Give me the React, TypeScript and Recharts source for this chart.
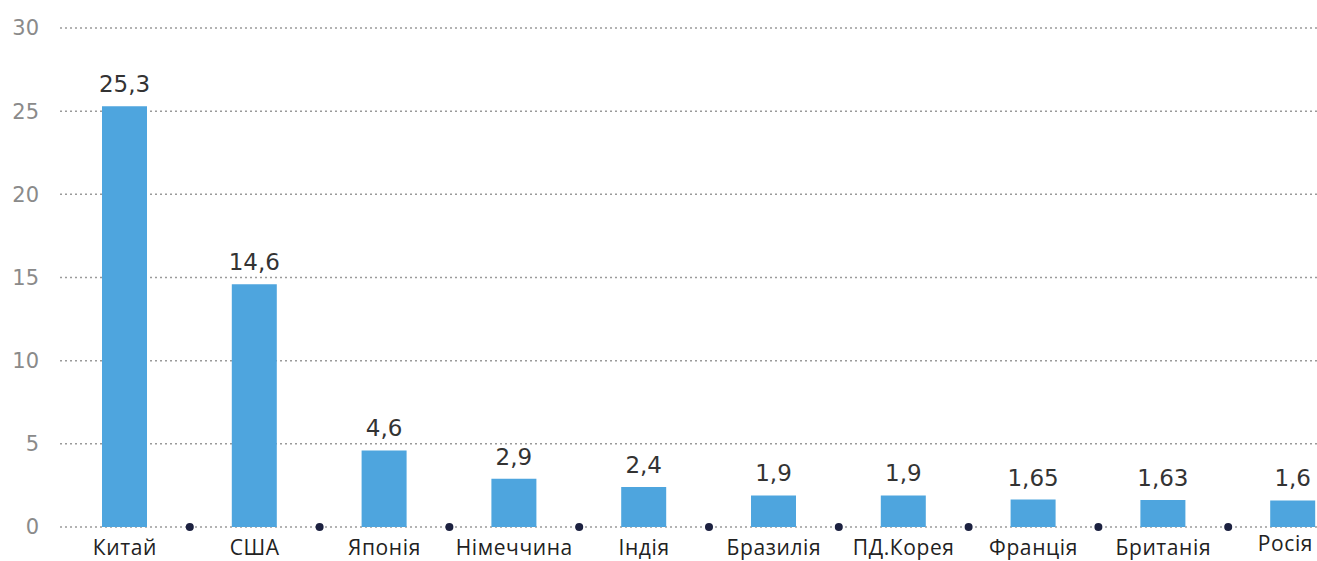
import React from "react";
import { BarChart, Bar, XAxis, YAxis, CartesianGrid, LabelList } from "recharts";

const categories = ["Китай", "США", "Японія", "Німеччина", "Індія", "Бразилія", "ПД.Корея", "Франція", "Британія", "Росія"];
const values = [25.3, 14.6, 4.6, 2.9, 2.4, 1.9, 1.9, 1.65, 1.63, 1.6];
const yTicks = [0, 5, 10, 15, 20, 25, 30];

const data = categories.map((name, i) => ({ name, value: values[i] }));

const formatValue = (v: any) => String(v).replace(".", ",");

function CategoryTick(props: any) {
  const { x, y, payload, index } = props;
  const half = payload && typeof payload.offset === "number" && payload.offset > 0 ? payload.offset : 65;
  const isLast = index === categories.length - 1;
  return (
    <g>
      <text
        x={isLast ? x + 20 : x}
        y={isLast ? y + 24 : y + 27.5}
        textAnchor={isLast ? "end" : "middle"}
        fontFamily="'Open Sans', sans-serif"
        fontSize={21}
        letterSpacing={0.6}
        fill="#222"
      >
        {payload.value}
      </text>
      {!isLast && <circle cx={x + half} cy={y} r={4} fill="#1c2140" />}
    </g>
  );
}

export default function App() {
  return (
    <div style={{ position: "absolute", left: 0, top: 0, width: 1317, height: 561, overflow: "hidden", background: "#fff" }}>
      <BarChart
        width={1358}
        height={561}
        data={data}
        margin={{ top: 28, right: 0, bottom: 0, left: 0 }}
        barSize={45}
      >
        <CartesianGrid horizontal vertical={false} stroke="#9a9a9a" strokeDasharray="2 3" strokeWidth={1.5} />
        <XAxis
          dataKey="name"
          axisLine={false}
          tickLine={false}
          tickSize={0}
          tickMargin={0}
          height={34}
          interval={0}
          tick={<CategoryTick />}
        />
        <YAxis
          width={60}
          domain={[0, 30]}
          ticks={yTicks}
          axisLine={false}
          tickLine={false}
          tickSize={0}
          tickMargin={21}
          tick={{ fill: "#8a8a8a", fontSize: 21, fontFamily: "'DejaVu Sans', sans-serif" }}
        />
        <Bar dataKey="value" fill="#4ea5de" isAnimationActive={false}>
          <LabelList
            dataKey="value"
            position="top"
            offset={14}
            formatter={formatValue}
            fill="#333"
            fontSize={23}
            fontFamily="'DejaVu Sans', sans-serif"
          />
        </Bar>
      </BarChart>
    </div>
  );
}
